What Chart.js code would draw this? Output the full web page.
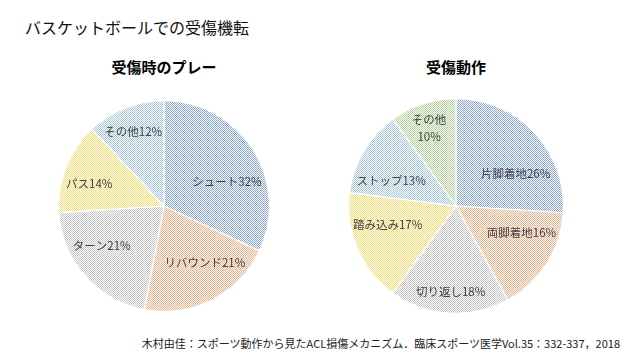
<!DOCTYPE html>
<html><head><meta charset="utf-8">
<script src="https://cdn.jsdelivr.net/npm/chart.js@4"></script>
<style>
html,body{margin:0;padding:0;background:#fff;width:640px;height:360px;overflow:hidden;font-family:"Noto Sans CJK JP","Noto Sans",sans-serif;}
.t{position:absolute;white-space:nowrap;color:#000;}
canvas{position:absolute;}
</style></head><body>
<div class="t" style="left:25px;top:15px;font-size:16px;color:#111;">バスケットボールでの受傷機転</div>
<div class="t" style="left:64px;top:56px;width:200px;text-align:center;font-size:15px;font-weight:bold;">受傷時のプレー</div>
<div class="t" style="left:356px;top:56px;width:200px;text-align:center;font-size:15px;font-weight:bold;">受傷動作</div>
<div class="t" style="right:20px;top:335px;font-size:11px;color:#222;">木村由佳：スポーツ動作から見たACL損傷メカニズム．臨床スポーツ医学Vol.35：332-337，2018</div>
<div style="position:absolute;left:58px;top:100px;width:212px;height:212px;"><canvas id="c1"></canvas></div>
<div style="position:absolute;left:348px;top:98px;width:216px;height:216px;"><canvas id="c2"></canvas></div>
<script>
const playLabels = ["シュート","リバウンド","ターン","パス","その他"];
const playValues = [32,21,21,14,12];
const playColors = ["#86A3DE","#F5AE85","#C4C4C4","#FFDA70","#A5C8E8"];
const motionLabels = ["片脚着地","両脚着地","切り返し","踏み込み","ストップ","その他"];
const motionValues = [26,16,18,17,13,10];
const motionColors = ["#86A3DE","#F5AE85","#C4C4C4","#FFDA70","#A5C8E8","#AFD496"];
// label placement tweaks (angle offset in degrees, radius fraction), like Excel best-fit
const playLabelAngle = [11,-9,9,-5,-1];
const playLabelRadius = [0.64,0.66,0.70,0.74,0.76];
const motionLabelAngle = [15,-10,0,8,-9,-1];
const motionLabelRadius = [0.63,0.66,0.80,0.66,0.65,0.77];
const motionTwoLine = [false,false,false,false,false,true];

function checker(color){
  const c=document.createElement('canvas');c.width=2;c.height=2;
  const x=c.getContext('2d');
  x.fillStyle='#ffffff';x.fillRect(0,0,2,2);
  x.fillStyle=color;x.fillRect(0,0,1,1);x.fillRect(1,1,1,1);
  return x.createPattern(c,'repeat');
}
const labelPlugin={
  id:'sliceLabels',
  afterDatasetsDraw(chart,args,opts){
    const ctx=chart.ctx;const meta=chart.getDatasetMeta(0);
    ctx.save();
    ctx.font='11.5px "Noto Sans CJK JP"';
    ctx.fillStyle='#404040';ctx.textAlign='center';ctx.textBaseline='middle';
    meta.data.forEach((arc,i)=>{
      const p=arc.getProps(['x','y','startAngle','endAngle','outerRadius'],true);
      const a=(p.startAngle+p.endAngle)/2+opts.angle[i]*Math.PI/180;const r=p.outerRadius*opts.radius[i];
      const x=p.x+Math.cos(a)*r,y=p.y+Math.sin(a)*r;
      const name=chart.data.labels[i],v=chart.data.datasets[0].data[i]+'%';
      if(opts.twoLine&&opts.twoLine[i]){
        ctx.fillText(name,x,y-8);ctx.fillText(v,x,y+9);
      }else ctx.fillText(name+v,x,y);
    });
    ctx.restore();
  }
};
function make(id,labels,values,colors,angle,radius,twoLine){
  return new Chart(document.getElementById(id),{
    type:'pie',
    data:{labels:labels,datasets:[{data:values,backgroundColor:colors.map(checker),borderColor:'#ffffff',borderWidth:1.2}]},
    options:{responsive:true,maintainAspectRatio:false,animation:false,
      layout:{padding:0},
      plugins:{legend:{display:false},tooltip:{enabled:false},sliceLabels:{angle:angle,radius:radius,twoLine:twoLine}}},
    plugins:[labelPlugin]
  });
}
make('c1',playLabels,playValues,playColors,playLabelAngle,playLabelRadius,null);
make('c2',motionLabels,motionValues,motionColors,motionLabelAngle,motionLabelRadius,motionTwoLine);
</script>
</body></html>
